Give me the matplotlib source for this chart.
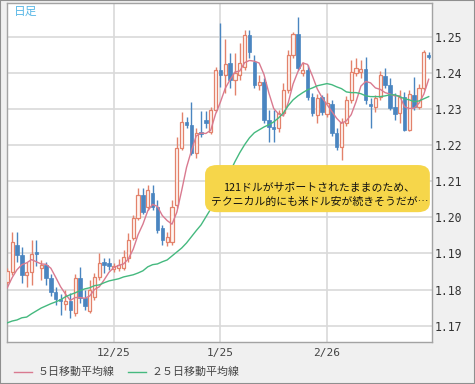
import matplotlib
matplotlib.use("Agg")
import matplotlib.pyplot as plt
from matplotlib.patches import FancyBboxPatch, Rectangle
from matplotlib.lines import Line2D
import numpy as np

plt.rcParams['font.family'] = ['Noto Sans CJK JP', 'DejaVu Sans']

# ---------------- data (EUR/USD daily) ----------------
opens = [1.1822, 1.1849, 1.1924, 1.1896, 1.1841, 1.1849, 1.1904, 1.1860, 1.1869, 1.1833,
         1.1794, 1.1774, 1.1761, 1.1769, 1.1736, 1.1833, 1.1777, 1.1741, 1.1780, 1.1835,
         1.1877, 1.1874, 1.1857, 1.1860, 1.1860, 1.1888, 1.1943, 1.1999, 1.2062, 1.2029,
         1.2068, 1.2029, 1.1971, 1.1932, 1.1932, 1.2035, 1.2192, 1.2264, 1.2256, 1.2179,
         1.2237, 1.2270, 1.2237, 1.2298, 1.2408, 1.2394, 1.2428, 1.2381, 1.2394, 1.2417,
         1.2505, 1.2430, 1.2367, 1.2375, 1.2270, 1.2250, 1.2248, 1.2289, 1.2353, 1.2450,
         1.2508, 1.2400, 1.2408, 1.2334, 1.2284, 1.2334, 1.2286, 1.2314, 1.2234, 1.2195,
         1.2262, 1.2325, 1.2400, 1.2403, 1.2411, 1.2314, 1.2306, 1.2334, 1.2392, 1.2367,
         1.2306, 1.2289, 1.2334, 1.2242, 1.2339, 1.2306, 1.2359, 1.2450]
highs = [1.1860, 1.1960, 1.1960, 1.1918, 1.1877, 1.1938, 1.1938, 1.1882, 1.1877, 1.1844,
         1.1808, 1.1788, 1.1799, 1.1791, 1.1844, 1.1863, 1.1799, 1.1827, 1.1846, 1.1902,
         1.1888, 1.1888, 1.1874, 1.1885, 1.1910, 1.1957, 1.2007, 1.2082, 1.2082, 1.2090,
         1.2090, 1.2048, 1.1979, 1.1960, 1.2048, 1.2223, 1.2292, 1.2278, 1.2320, 1.2248,
         1.2295, 1.2295, 1.2306, 1.2417, 1.2538, 1.2494, 1.2455, 1.2455, 1.2483, 1.2519,
         1.2519, 1.2450, 1.2394, 1.2386, 1.2298, 1.2298, 1.2298, 1.2372, 1.2464, 1.2513,
         1.2555, 1.2430, 1.2422, 1.2345, 1.2342, 1.2339, 1.2345, 1.2325, 1.2248, 1.2275,
         1.2336, 1.2436, 1.2441, 1.2436, 1.2444, 1.2331, 1.2339, 1.2405, 1.2414, 1.2386,
         1.2345, 1.2353, 1.2347, 1.2353, 1.2389, 1.2370, 1.2464, 1.2458]
lows = [1.1816, 1.1841, 1.1877, 1.1819, 1.1808, 1.1813, 1.1866, 1.1827, 1.1813, 1.1783,
        1.1758, 1.1730, 1.1744, 1.1722, 1.1727, 1.1763, 1.1744, 1.1736, 1.1772, 1.1827,
        1.1846, 1.1855, 1.1849, 1.1852, 1.1855, 1.1877, 1.1938, 1.1993, 1.2010, 1.2021,
        1.2021, 1.1957, 1.1924, 1.1921, 1.1924, 1.2026, 1.2187, 1.2248, 1.2173, 1.2165,
        1.2223, 1.2248, 1.2231, 1.2292, 1.2361, 1.2345, 1.2359, 1.2339, 1.2381, 1.2408,
        1.2441, 1.2359, 1.2353, 1.2262, 1.2209, 1.2209, 1.2237, 1.2281, 1.2345, 1.2441,
        1.2408, 1.2392, 1.2325, 1.2281, 1.2262, 1.2284, 1.2278, 1.2226, 1.2187, 1.2159,
        1.2253, 1.2317, 1.2392, 1.2386, 1.2314, 1.2248, 1.2292, 1.2325, 1.2359, 1.2298,
        1.2270, 1.2262, 1.2239, 1.2239, 1.2298, 1.2300, 1.2353, 1.2439]
closes = [1.1852, 1.1932, 1.1896, 1.1841, 1.1849, 1.1899, 1.1899, 1.1869, 1.1833, 1.1794,
          1.1774, 1.1769, 1.1769, 1.1744, 1.1833, 1.1777, 1.1755, 1.1799, 1.1835, 1.1874,
          1.1869, 1.1866, 1.1866, 1.1869, 1.1891, 1.1938, 1.1999, 1.2062, 1.2015, 1.2076,
          1.2029, 1.1965, 1.1938, 1.1946, 1.2029, 1.2192, 1.2264, 1.2256, 1.2179, 1.2234,
          1.2231, 1.2262, 1.2298, 1.2408, 1.2394, 1.2425, 1.2381, 1.2400, 1.2428, 1.2505,
          1.2458, 1.2367, 1.2375, 1.2270, 1.2250, 1.2245, 1.2289, 1.2353, 1.2450, 1.2508,
          1.2414, 1.2408, 1.2334, 1.2289, 1.2331, 1.2292, 1.2317, 1.2234, 1.2195, 1.2264,
          1.2325, 1.2403, 1.2414, 1.2411, 1.2325, 1.2309, 1.2331, 1.2394, 1.2367, 1.2303,
          1.2286, 1.2334, 1.2242, 1.2342, 1.2306, 1.2359, 1.2458, 1.2444]
ma5 = [1.1805, 1.1833, 1.1855, 1.1869, 1.1874, 1.1883, 1.1877, 1.1871, 1.1870, 1.1859,
       1.1834, 1.1808, 1.1788, 1.1770, 1.1778, 1.1778, 1.1776, 1.1782, 1.1800, 1.1808,
       1.1827, 1.1848, 1.1861, 1.1867, 1.1871, 1.1885, 1.1912, 1.1952, 1.1981, 1.2018,
       1.2036, 1.2030, 1.2005, 1.1991, 1.1981, 1.2014, 1.2074, 1.2138, 1.2184, 1.2225,
       1.2233, 1.2232, 1.2241, 1.2286, 1.2319, 1.2357, 1.2381, 1.2402, 1.2405, 1.2428,
       1.2434, 1.2432, 1.2427, 1.2395, 1.2344, 1.2301, 1.2286, 1.2281, 1.2317, 1.2369,
       1.2403, 1.2427, 1.2423, 1.2391, 1.2355, 1.2331, 1.2312, 1.2293, 1.2274, 1.2260,
       1.2267, 1.2284, 1.2320, 1.2363, 1.2376, 1.2372, 1.2358, 1.2354, 1.2345, 1.2341,
       1.2336, 1.2336, 1.2306, 1.2301, 1.2302, 1.2316, 1.2341, 1.2382]
ma25 = [1.1708, 1.1713, 1.1716, 1.1722, 1.1724, 1.1733, 1.1741, 1.1749, 1.1755, 1.1761,
        1.1766, 1.1772, 1.1780, 1.1786, 1.1791, 1.1797, 1.1802, 1.1805, 1.1811, 1.1813,
        1.1819, 1.1824, 1.1827, 1.1830, 1.1835, 1.1838, 1.1841, 1.1846, 1.1852, 1.1863,
        1.1869, 1.1871, 1.1877, 1.1882, 1.1893, 1.1904, 1.1915, 1.1929, 1.1946, 1.1963,
        1.1979, 1.2001, 1.2023, 1.2048, 1.2073, 1.2098, 1.2126, 1.2154, 1.2179, 1.2201,
        1.2220, 1.2234, 1.2242, 1.2250, 1.2256, 1.2264, 1.2275, 1.2289, 1.2309, 1.2325,
        1.2336, 1.2345, 1.2353, 1.2358, 1.2364, 1.2367, 1.2370, 1.2367, 1.2361, 1.2356,
        1.2347, 1.2345, 1.2345, 1.2342, 1.2336, 1.2334, 1.2334, 1.2334, 1.2336, 1.2339,
        1.2339, 1.2334, 1.2328, 1.2325, 1.2320, 1.2322, 1.2328, 1.2334]

tick_idx = [22, 44, 66]
tick_labels = ["12/25", "1/25", "2/26"]
y_ticks = [1.17, 1.18, 1.19, 1.20, 1.21, 1.22, 1.23, 1.24, 1.25]
legend_labels = ["５日移動平均線", "２５日移動平均線"]
period_label = "日足"
note_lines = ["121ドルがサポートされたままのため、",
              "テクニカル的にも米ドル安が続きそうだが…"]

# ---------------- styles ----------------
UP_EDGE = '#e3826b'
UP_FILL = '#fff6f2'
DOWN = '#4a85c0'
MA5_COLOR = '#d97a90'
MA25_COLOR = '#45b97f'
GRID = '#d9d9d9'
BG = '#f0f0f0'

fig = plt.figure(figsize=(4.75, 3.84), dpi=100, facecolor=BG)
W, H = 475.0, 384.0
ax = fig.add_axes([7 / W, 1 - 342 / H, 425 / W, 339 / H])
ax.set_facecolor('white')

o = np.array(opens); h = np.array(highs); l = np.array(lows); c = np.array(closes)
x = np.arange(len(o))
up = c >= o
bottom = np.minimum(o, c)
height = np.maximum(np.abs(c - o), 0.00006)

ax.vlines(x[up], l[up], h[up], color=UP_EDGE, lw=1.0, zorder=3)
ax.vlines(x[~up], l[~up], h[~up], color=DOWN, lw=1.0, zorder=3)
ax.bar(x[up], height[up], bottom=bottom[up], width=0.66, facecolor=UP_FILL,
       edgecolor=UP_EDGE, linewidth=0.9, zorder=4)
ax.bar(x[~up], height[~up], bottom=bottom[~up], width=0.72, facecolor=DOWN,
       edgecolor=DOWN, linewidth=0.5, zorder=4)

ax.plot(x, ma5, color=MA5_COLOR, lw=1.0, zorder=5)
ax.plot(x, ma25, color=MA25_COLOR, lw=1.0, zorder=5)

ax.set_xlim(-0.06, 87.68)
ax.set_ylim(1.1655, 1.2593)

ax.set_xticks(tick_idx)
ax.set_xticklabels(tick_labels, family='DejaVu Sans Mono', fontsize=8, color='#444444')
ax.yaxis.tick_right()
ax.set_yticks(y_ticks)
ax.set_yticklabels([f"{v:.2f}" for v in y_ticks], family='DejaVu Sans Mono',
                   fontsize=8.3, color='#333333')
ax.tick_params(axis='both', length=0)
ax.tick_params(axis='y', pad=2)
ax.tick_params(axis='x', pad=4)
ax.grid(True, color=GRID, lw=1.2)
ax.set_axisbelow(True)
for s in ax.spines.values():
    s.set_color('#a3a3a3')
    s.set_linewidth(1.0)

ax.text(0.0165, 0.974, period_label, transform=ax.transAxes, ha='left', va='center',
        fontsize=8.5, color='#5ab8e6')

box = FancyBboxPatch((0.466, 0.383), 0.529, 0.139,
                     boxstyle="round,pad=0,rounding_size=0.028",
                     transform=ax.transAxes, facecolor='#f6d64a',
                     edgecolor='none', zorder=6)
ax.add_patch(box)
ax.text(0.735, 0.457, note_lines[0], transform=ax.transAxes, ha='center', va='center',
        fontsize=7.8, color='#111111', zorder=7)
ax.text(0.735, 0.413, note_lines[1], transform=ax.transAxes, ha='center', va='center',
        fontsize=7.8, color='#111111', zorder=7)

# legend row
ly = 1 - 372 / H
fig.add_artist(Line2D([14 / W, 32 / W], [ly, ly], color=MA5_COLOR, lw=1.0,
                      transform=fig.transFigure))
fig.text(38 / W, ly, legend_labels[0], ha='left', va='center', fontsize=7.9, color='#444444')
fig.add_artist(Line2D([128 / W, 146 / W], [ly, ly], color=MA25_COLOR, lw=1.0,
                      transform=fig.transFigure))
fig.text(151 / W, ly, legend_labels[1], ha='left', va='center', fontsize=7.9, color='#444444')

fig.add_artist(Rectangle((0, 0), 1, 1, transform=fig.transFigure, fill=False,
                         edgecolor='#8f8f8f', lw=1.5))

fig.savefig('out.png', dpi=100, facecolor=fig.get_facecolor())
